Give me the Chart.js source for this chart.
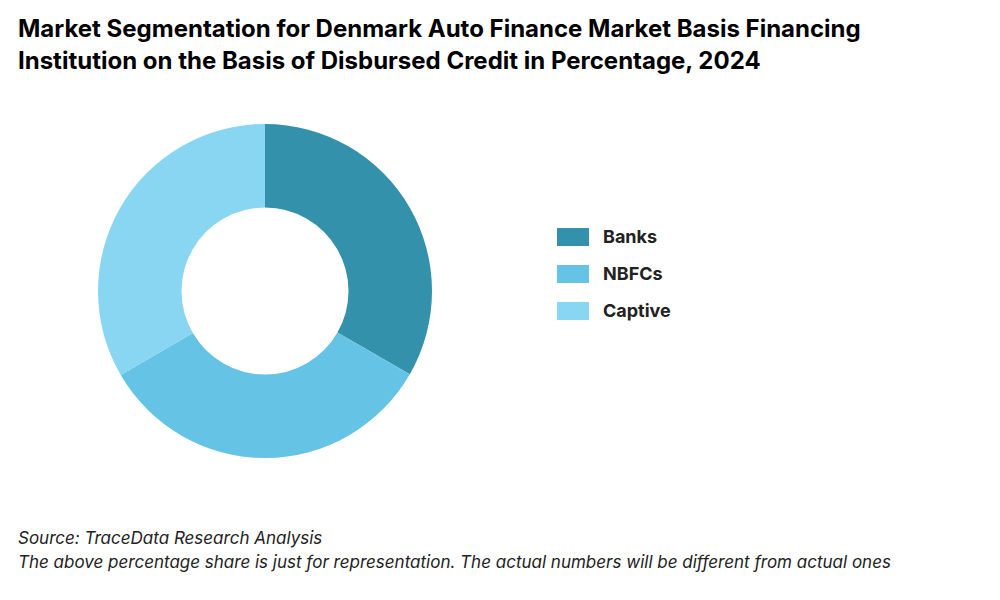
<html>
    <head>
        <title>Denmark Auto Finance Market Segmentation</title>
        <script src="https://cdn.jsdelivr.net/npm/chart.js"></script>
        <style>
            body {
                margin: 0;
                font-family: "Inter";
                color: black;
                background: white;
                width: 1000px;
                height: 600px;
                position: relative;
                overflow: hidden;
            }
            h1 {
                position: absolute;
                left: 18px;
                top: 13px;
                margin: 0;
                font-size: 24px;
                line-height: 32px;
                font-weight: bold;
            }
            #chart-box {
                position: absolute;
                left: 98px;
                top: 124px;
                width: 334px;
                height: 334px;
            }
            #legend {
                position: absolute;
                left: 557px;
                top: 218px;
            }
            .item {
                display: flex;
                align-items: center;
                height: 37px;
                font-size: 18px;
                font-weight: bold;
                color: #222;
            }
            .swatch {
                width: 32px;
                height: 18px;
                margin-right: 14px;
            }
            #footer {
                position: absolute;
                left: 18px;
                top: 526px;
                font-style: italic;
                font-size: 17px;
                line-height: 24px;
                color: #222;
            }
        </style>
    </head>
    <body>
        <h1>Market Segmentation for Denmark Auto Finance Market Basis Financing<br/>Institution on the Basis of Disbursed Credit in Percentage, 2024</h1>
        <div id="chart-box">
            <canvas id="chart"></canvas>
        </div>
        <div id="legend"></div>
        <div id="footer">
            Source: TraceData Research Analysis<br/>
            The above percentage share is just for representation. The actual numbers will be different from actual ones
        </div>
        <script>
            const labels = ['Banks', 'NBFCs', 'Captive'];
            const shares = [33.3, 33.3, 33.4];
            const colors = ['#3391AC', '#65C3E6', '#88D6F1'];

            const legend = document.getElementById('legend');
            labels.forEach((l, i) => {
                legend.innerHTML += `<div class="item"><div class="swatch" style="background:${colors[i]}"></div>${l}</div>`;
            });

            new Chart(document.getElementById('chart'), {
                type: 'doughnut',
                data: {
                    labels: labels,
                    datasets: [{
                        data: shares,
                        backgroundColor: colors,
                        borderWidth: 0
                    }]
                },
                options: {
                    responsive: true,
                    maintainAspectRatio: false,
                    animation: false,
                    cutout: '50%',
                    plugins: {
                        legend: { display: false },
                        tooltip: { enabled: false }
                    }
                }
            });
        </script>
    </body>
</html>
